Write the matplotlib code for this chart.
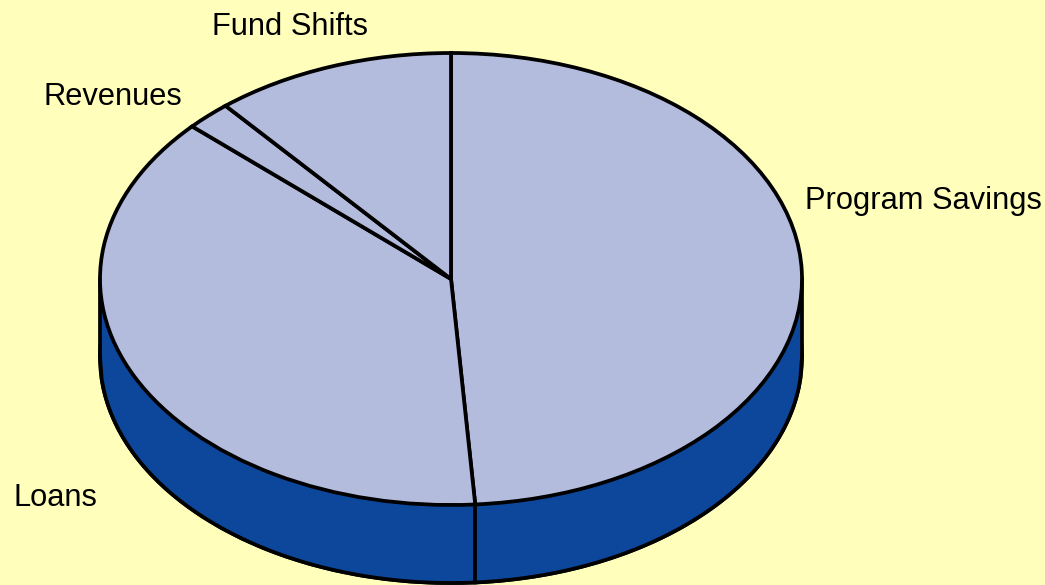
import numpy as np
import matplotlib
matplotlib.use("Agg")
import matplotlib.pyplot as plt

plt.rcParams['font.family'] = ['Liberation Sans', 'DejaVu Sans']

categories = ["Program Savings", "Loans", "Revenues", "Fund Shifts"]
shares = [48.9, 37.9, 2.1, 11.1]

W, H = 1045, 585
CX, CY = 451, 279      # pie centre, pixels
RX, RY = 351, 226      # ellipse radii, pixels
DEPTH = 78 / RY        # height of the wall in data units
LW = 2.7

top_color = "#B3BCDC"
wall_color = "#0D479C"
bg_color = "#FFFFBB"

# label anchors in pixels (left edge, vertical centre)
label_pos = [(805, 201), (13, 498), (43, 97), (212, 27)]

fig = plt.figure(figsize=(W / 100, H / 100), dpi=100, facecolor=bg_color)
ax = fig.add_axes([0, 0, 1, 1])

# wall: lower pie, then band between the two front rims
ax.pie(shares, center=(0, -DEPTH), radius=1, startangle=90, counterclock=False,
       colors=[wall_color], wedgeprops=dict(edgecolor="black", linewidth=LW))
x = np.linspace(-1, 1, 400)
y = -np.sqrt(1 - x ** 2)
ax.fill_between(x, y, y - DEPTH, color=wall_color, linewidth=0, zorder=2)
ax.plot([-1, -1], [0, -DEPTH], color="black", lw=LW, zorder=3)
ax.plot([1, 1], [0, -DEPTH], color="black", lw=LW, zorder=3)
ax.plot(x, y - DEPTH, color="black", lw=LW, zorder=3)

# seam on the wall where the first slice ends
ang = np.radians(90 - shares[0] * 3.6)
ax.plot([np.cos(ang)] * 2, [np.sin(ang), np.sin(ang) - DEPTH], color="black", lw=LW, zorder=3)

wedges, _ = ax.pie(shares, radius=1, startangle=90, counterclock=False,
                   colors=[top_color], wedgeprops=dict(edgecolor="black", linewidth=LW))
for w in wedges:
    w.set_zorder(4)

ax.set_aspect("auto")
ax.set_xlim(-CX / RX, (W - CX) / RX)
ax.set_ylim(-(H - CY) / RY, CY / RY)
ax.axis("off")

for name, (px, py) in zip(categories, label_pos):
    fig.text(px / W, 1 - py / H, name, fontsize=22.2, color="black", ha="left", va="center")

fig.savefig("out.png", dpi=100, facecolor=bg_color)
